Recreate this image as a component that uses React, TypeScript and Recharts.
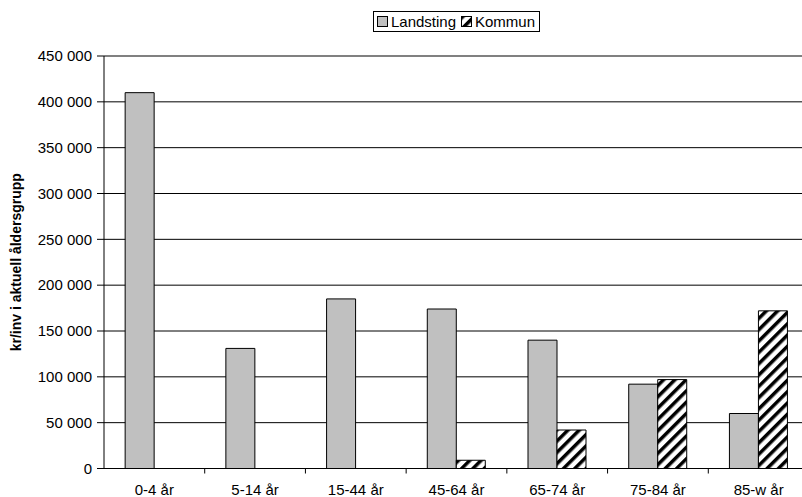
import { BarChart, Bar, XAxis, YAxis, CartesianGrid, Legend, ReferenceLine } from 'recharts';

const ageGroups = ['0-4 år', '5-14 år', '15-44 år', '45-64 år', '65-74 år', '75-84 år', '85-w år'];
const landsting = [410000, 131000, 185000, 174000, 140000, 92000, 60000];
const kommun = [0, 0, 0, 9000, 42000, 97000, 172000];
const yTicks = [0, 50000, 100000, 150000, 200000, 250000, 300000, 350000, 400000, 450000];

const data = ageGroups.map((group, i) => ({
	group,
	landsting: landsting[i],
	kommun: kommun[i],
}));

const FONT = '"Liberation Sans", Arial, sans-serif';

const formatThousands = (v: number) => String(v).replace(/\B(?=(\d{3})+(?!\d))/g, ' ');

const Hatch = ({ id }: { id: string }) => (
	<pattern id={id} patternUnits="userSpaceOnUse" width={8} height={8} patternTransform="rotate(45)">
		<rect x={0} y={0} width={8} height={8} fill="#fff" />
		<rect x={0} y={0} width={3.5} height={8} fill="#000" />
	</pattern>
);

// category labels centred, with the tick mark drawn on the boundary to the right
const AgeTick = (props: any) => {
	const { x, y, payload, index } = props;
	const edge = x + (payload.offset || 0);
	return (
		<g>
			{index < ageGroups.length - 1 && (
				<line x1={edge} x2={edge} y1={y} y2={y + 5} stroke="#000" strokeWidth={1} />
			)}
			<text x={x} y={y + 26} textAnchor="middle" fontSize={15} fontFamily={FONT} fill="#000">
				{payload.value}
			</text>
		</g>
	);
};

const renderLegend = () => (
	<div style={{ textAlign: 'center', lineHeight: 'normal' }}>
		<div
			style={{
				display: 'inline-flex',
				alignItems: 'center',
				border: '1px solid #000',
				padding: '1px 4px 1px 3px',
				fontFamily: FONT,
				fontSize: 15,
				color: '#000',
				background: '#fff',
			}}
		>
			<svg width={11} height={11} style={{ marginRight: 3 }}>
				<rect x={0.5} y={0.5} width={10} height={10} fill="#c0c0c0" stroke="#000" />
			</svg>
			<span style={{ marginRight: 5 }}>Landsting</span>
			<svg width={11} height={11} style={{ marginRight: 3 }}>
				<defs>
					<Hatch id="hatchLegend" />
				</defs>
				<rect x={0.5} y={0.5} width={10} height={10} fill="url(#hatchLegend)" stroke="#000" />
			</svg>
			<span>Kommun</span>
		</div>
	</div>
);

const YTitle = (props: any) => {
	const { viewBox } = props;
	const cy = viewBox.y + viewBox.height / 2;
	return (
		<text
			x={16}
			y={cy}
			transform={`rotate(-90 16 ${cy})`}
			textAnchor="middle"
			dominantBaseline="central"
			fontFamily={FONT}
			fontSize={14}
			fontWeight="bold"
			fill="#000"
		>
			kr/inv i aktuell åldersgrupp
		</text>
	);
};

export default function App() {
	return (
		<div style={{ position: 'absolute', left: 0, top: 0, width: 802, height: 497, overflow: 'hidden', background: '#fff' }}>
			<BarChart
				width={820}
				height={520}
				data={data}
				margin={{ top: 56, right: 11, bottom: 21.5, left: 0 }}
				barCategoryGap="21%"
				barGap={0}
			>
				<defs>
					<Hatch id="hatchBar" />
				</defs>
				<CartesianGrid vertical={false} stroke="#000" strokeWidth={1} />
				<ReferenceLine y={450000} stroke="#808080" strokeWidth={2} />
				<XAxis
					dataKey="group"
					height={30}
					axisLine={{ stroke: '#000' }}
					tickLine={false}
					tickSize={0}
					tickMargin={0}
					interval={0}
					tick={<AgeTick />}
				/>
				<YAxis
					width={104}
					domain={[0, 450000]}
					ticks={yTicks}
					interval={0}
					tickFormatter={formatThousands}
					axisLine={{ stroke: '#000' }}
					tickLine={{ stroke: '#000' }}
					tickSize={7}
					tickMargin={5}
					tick={{ fontSize: 15, fontFamily: FONT, fill: '#000' }}
					label={{ content: <YTitle /> }}
				/>
				<Legend
					verticalAlign="middle"
					align="center"
					content={renderLegend}
					wrapperStyle={{ top: 11, left: 104, width: 705 }}
				/>
				<Bar dataKey="landsting" name="Landsting" fill="#c0c0c0" stroke="#000" strokeWidth={1} isAnimationActive={false} />
				<Bar dataKey="kommun" name="Kommun" fill="url(#hatchBar)" stroke="#000" strokeWidth={1} isAnimationActive={false} />
			</BarChart>
		</div>
	);
}
